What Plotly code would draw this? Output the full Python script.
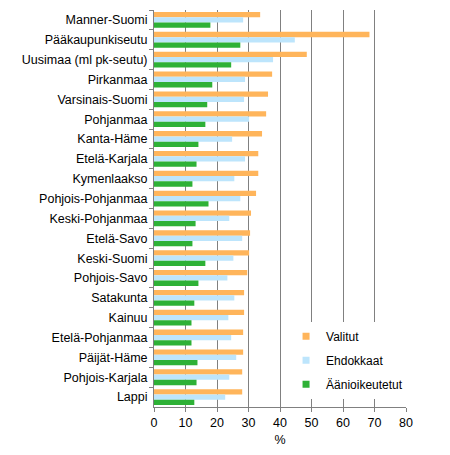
import plotly.graph_objects as go

regions = ["Manner-Suomi", "Pääkaupunkiseutu", "Uusimaa (ml pk-seutu)", "Pirkanmaa",
           "Varsinais-Suomi", "Pohjanmaa", "Kanta-Häme", "Etelä-Karjala", "Kymenlaakso",
           "Pohjois-Pohjanmaa", "Keski-Pohjanmaa", "Etelä-Savo", "Keski-Suomi",
           "Pohjois-Savo", "Satakunta", "Kainuu", "Etelä-Pohjanmaa", "Päijät-Häme",
           "Pohjois-Karjala", "Lappi"]
valitut = [33.7, 68.4, 48.5, 37.5, 36.2, 35.6, 34.3, 33.1, 33.1, 32.4, 30.8, 30.5, 30.2,
           29.6, 28.6, 28.6, 28.3, 28.3, 28.0, 28.0]
ehdokkaat = [28.3, 44.7, 37.8, 28.9, 28.6, 30.2, 24.8, 28.9, 25.5, 27.4, 23.9, 28.0, 25.2,
             23.3, 25.5, 23.6, 24.5, 26.1, 23.9, 22.6]
aanioikeutetut = [17.9, 27.4, 24.5, 18.5, 16.9, 16.3, 14.1, 13.5, 12.2, 17.3, 13.2, 12.2, 16.3,
                  14.1, 12.8, 11.9, 11.9, 13.8, 13.5, 12.8]
x_ticks = [0, 10, 20, 30, 40, 50, 60, 70, 80]

series = [("Valitut", valitut, "#FFB55B"),
          ("Ehdokkaat", ehdokkaat, "#BDE5FC"),
          ("Äänioikeutetut", aanioikeutetut, "#2EB136")]

fig = go.Figure()
for name, vals, col in series:
    fig.add_trace(go.Bar(y=regions, x=vals, name=name, orientation="h",
                         marker=dict(color=col, line=dict(width=0)),
                         showlegend=False, legendgroup=name))
# small square legend proxies
for name, vals, col in series:
    fig.add_trace(go.Scatter(x=[None], y=[None], mode="markers", name=name,
                             legendgroup=name,
                             marker=dict(symbol="square", size=7, color=col)))

fig.update_layout(
    width=442, height=447,
    margin=dict(l=146, r=44, t=2, b=48),
    barmode="group", bargap=0.2, bargroupgap=0,
    plot_bgcolor="white", paper_bgcolor="white",
    font=dict(family="Liberation Sans, Arial, sans-serif", size=12.5, color="black"),
    legend=dict(x=0.524, y=0.215, xanchor="left", yanchor="top",
                bgcolor="white", font=dict(size=12), itemwidth=30,
                tracegroupgap=5),
    xaxis=dict(range=[0, 80], tickvals=x_ticks, showgrid=True, gridcolor="#808080",
               gridwidth=1, showline=True, linecolor="#808080", ticks="outside",
               ticklen=4, tickcolor="#808080", zeroline=False, automargin=False,
               title=dict(text="%", standoff=6, font=dict(size=12.5))),
    yaxis=dict(autorange="reversed", showline=True, linecolor="#808080", ticks="outside",
               tickson="boundaries", ticklen=4, tickcolor="#808080", showgrid=False,
               automargin=False, ticklabelstandoff=3),
)
fig.write_html("out.html")
